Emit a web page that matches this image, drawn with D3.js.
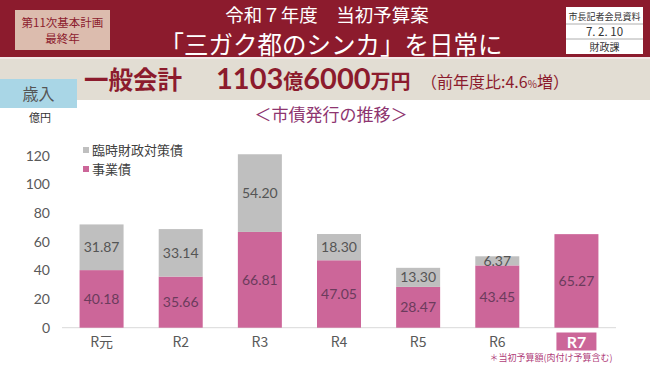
<!DOCTYPE html>
<html><head><meta charset="utf-8">
<script src="https://cdn.jsdelivr.net/npm/d3@7"></script>
<style>body{margin:0;background:#fff}svg{display:block}</style>
</head><body>
<script>
const categories = ["R元","R2","R3","R4","R5","R6","R7"];
const jigyosai = [40.18,35.66,66.81,47.05,28.47,43.45,65.27];
const rinji = [31.87,33.14,54.20,18.30,13.30,6.37,0];
const yTicks = [0,20,40,60,80,100,120];
const seriesNames = ["臨時財政対策債","事業債"];

const W=650,H=365;
const FONT='"Noto Sans CJK JP","Noto Sans",sans-serif';
const NUMFONT='Lato,"Noto Sans",sans-serif';
const RED="#8c1b2d", PINK="#cc6699", GRAY="#bfbfbf";
const svg=d3.select("body").append("svg").attr("width",W).attr("height",H).style("font-family",FONT);

// header
svg.append("rect").attr("x",0).attr("y",0).attr("width",W).attr("height",57).attr("fill",RED);
svg.append("rect").attr("x",0).attr("y",57).attr("width",W).attr("height",2).attr("fill","#f2e6e6");
svg.append("rect").attr("x",15).attr("y",10).attr("width",95).attr("height",40).attr("fill","#dcbcae");
svg.append("text").attr("x",62.5).attr("y",27).attr("text-anchor","middle").attr("font-size",11.5).attr("fill",RED).text("第11次基本計画");
svg.append("text").attr("x",62.5).attr("y",43).attr("text-anchor","middle").attr("font-size",11.5).attr("fill",RED).text("最終年");
svg.append("text").attr("x",327).attr("y",22).attr("text-anchor","middle").attr("font-size",18.5).attr("fill","#fff").text("令和７年度　当初予算案");
svg.append("text").attr("x",331).attr("y",54).attr("text-anchor","middle").attr("font-size",24.5).attr("fill","#fff").text("「三ガク都のシンカ」を日常に");
svg.append("rect").attr("x",566).attr("y",7).attr("width",77).attr("height",47).attr("fill","#fff");
[24,39].forEach(y=>svg.append("line").attr("x1",566).attr("x2",643).attr("y1",y).attr("y2",y).attr("stroke","#999").attr("stroke-width",0.8));
[["市長記者会見資料",19.5,9],["7. 2. 10",36,11.5],["財政課",51,10]].forEach(([t,y,fs])=>svg.append("text").attr("x",604.5).attr("y",y).attr("text-anchor","middle").attr("font-size",fs).attr("fill","#333").text(t));

// beige band
svg.append("rect").attr("x",0).attr("y",59).attr("width",W).attr("height",41).attr("fill","#e2ddd3");
svg.append("rect").attr("x",0).attr("y",79).attr("width",77).attr("height",29).attr("fill","#a9d6e6");
svg.append("text").attr("x",38.5).attr("y",100).attr("text-anchor","middle").attr("font-size",16).attr("fill","#555").text("歳入");
svg.append("text").attr("x",84).attr("y",89).attr("font-size",24.5).attr("font-weight","bold").attr("fill",RED).text("一般会計");
const hl=svg.append("text").attr("x",216).attr("y",89).attr("fill",RED);
hl.append("tspan").attr("font-size",29).attr("font-weight","bold").attr("font-family",NUMFONT).text("1103");
hl.append("tspan").attr("font-size",20).attr("font-weight","bold").text("億");
hl.append("tspan").attr("font-size",29).attr("font-weight","bold").attr("font-family",NUMFONT).text("6000");
hl.append("tspan").attr("font-size",20).attr("font-weight","bold").text("万円");
const hl2=svg.append("text").attr("x",421).attr("y",88).attr("fill",RED).attr("font-size",16);
hl2.append("tspan").text("（前年度比:4.6");
hl2.append("tspan").attr("font-size",10).text("%");
hl2.append("tspan").text("増）");

svg.append("text").attr("x",331).attr("y",121).attr("text-anchor","middle").attr("font-size",17).attr("fill","#8e3570").text("＜市債発行の推移＞");
svg.append("text").attr("x",40).attr("y",122).attr("text-anchor","middle").attr("font-size",11).attr("fill","#333").text("億円");

// chart
const x=d3.scaleBand().domain(categories).range([62,616]).paddingInner(0.444).paddingOuter(0.222);
const y=d3.scaleLinear().domain([0,120]).range([327.7,155.7]);
const g=svg.append("g");
g.append("line").attr("x1",62).attr("x2",616).attr("y1",y(0)).attr("y2",y(0)).attr("stroke","#d9d9d9");
g.selectAll(".yt").data(yTicks).join("text").attr("x",50).attr("y",d=>y(d)+5).attr("text-anchor","end")
 .attr("font-size",14).attr("font-family",NUMFONT).attr("fill","#595959").text(d=>d);

const data=categories.map((c,i)=>({c,a:jigyosai[i],b:rinji[i]}));
g.selectAll(".pb").data(data).join("rect").attr("x",d=>x(d.c)).attr("width",x.bandwidth())
 .attr("y",d=>y(d.a)).attr("height",d=>y(0)-y(d.a)).attr("fill",PINK);
g.selectAll(".gb").data(data.filter(d=>d.b>0)).join("rect").attr("x",d=>x(d.c)).attr("width",x.bandwidth())
 .attr("y",d=>y(d.a+d.b)).attr("height",d=>y(d.a)-y(d.a+d.b)).attr("fill",GRAY);
g.selectAll(".pl").data(data).join("text").attr("x",d=>x(d.c)+x.bandwidth()/2).attr("y",d=>y(d.a/2)+5)
 .attr("text-anchor","middle").attr("font-size",14).attr("font-family",NUMFONT).attr("fill","#6b3b5c").text(d=>d.a.toFixed(2));
g.selectAll(".gl").data(data.filter(d=>d.b>0)).join("text").attr("x",d=>x(d.c)+x.bandwidth()/2).attr("y",d=>y(d.a+d.b/2)+5)
 .attr("text-anchor","middle").attr("font-size",14).attr("font-family",NUMFONT).attr("fill","#555").text(d=>d.b.toFixed(2));

// category labels
categories.forEach((c,i)=>{
  const cx=x(c)+x.bandwidth()/2;
  if(i===categories.length-1){
    g.append("rect").attr("x",cx-20).attr("y",332.5).attr("width",40).attr("height",18).attr("fill",PINK);
    g.append("text").attr("x",cx).attr("y",347.5).attr("text-anchor","middle").attr("font-size",16).attr("font-weight","bold").attr("font-family",NUMFONT).attr("fill","#fff").text(c);
  } else {
    g.append("text").attr("x",cx).attr("y",347).attr("text-anchor","middle").attr("font-size",14).attr("font-family",FONT).attr("fill","#595959").text(c);
  }
});
svg.append("text").attr("x",551).attr("y",361).attr("text-anchor","middle").attr("font-size",9).attr("fill","#b0407a").text("＊当初予算額(肉付け予算含む)");

// legend
[[seriesNames[0],GRAY,150],[seriesNames[1],PINK,169]].forEach(([t,c,yy])=>{
  svg.append("rect").attr("x",83).attr("y",yy-3).attr("width",6).attr("height",6).attr("fill",c);
  svg.append("text").attr("x",92).attr("y",yy+5).attr("font-size",13).attr("fill","#404040").text(t);
});
</script>
</body></html>
